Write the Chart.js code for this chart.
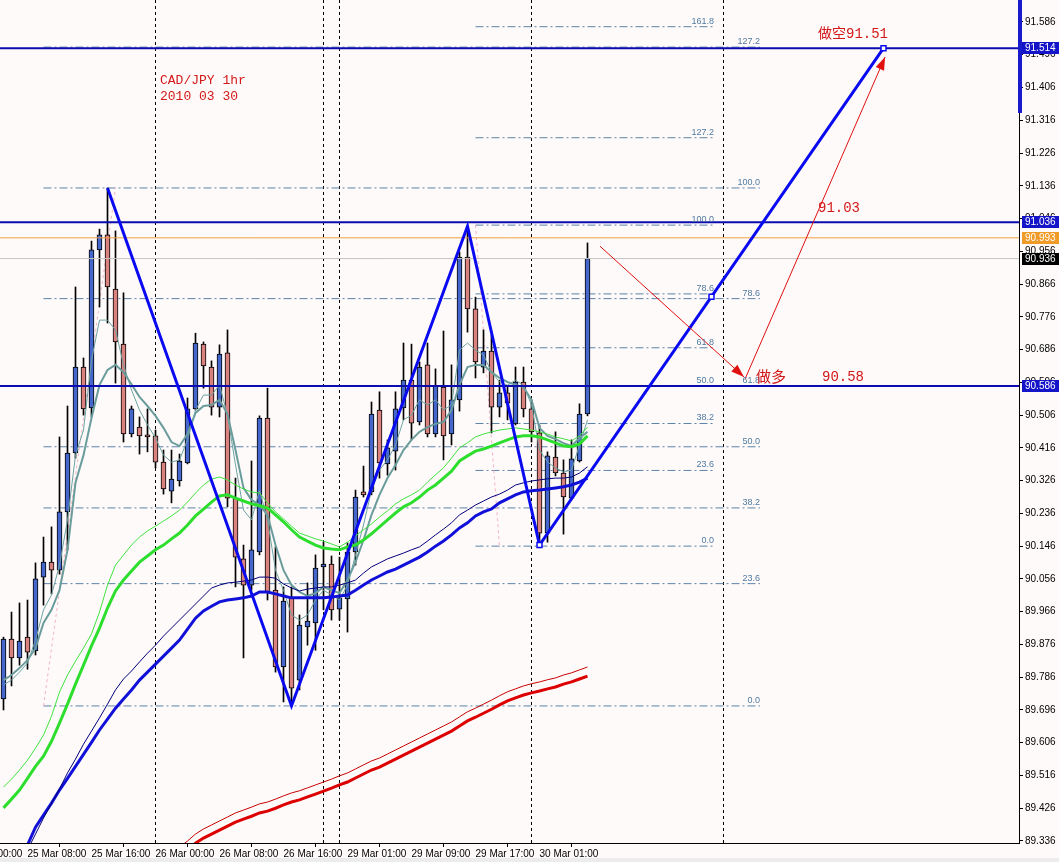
<!DOCTYPE html>
<html>
<head>
<meta charset="utf-8">
<title>CAD/JPY 1hr</title>
<script src="https://cdn.jsdelivr.net/npm/chart.js@4.4.1/dist/chart.umd.min.js"></script>
<style>
html,body{margin:0;padding:0;background:#fffafa;overflow:hidden;}
#box{position:relative;width:1059px;height:862px;}
canvas{display:block;}
</style>
</head>
<body>
<div id="box"><canvas id="chart" width="1059" height="862"></canvas></div>
<script>
// ---------------- data ----------------
const firstBar = -3; // bar index of the first candle (hourly bars, index 0 = 25 Mar 08:00)
const opens = [89.726,89.891,89.839,89.896,89.858,90.061,90.102,90.080,90.240,90.402,
  90.638,90.526,90.960,91.001,90.852,90.701,90.454,90.473,90.452,90.449,
  90.377,90.297,90.325,90.375,90.523,90.701,90.638,90.528,90.677,90.278,
  90.111,90.039,90.130,90.498,90.025,89.814,90.006,89.778,89.924,89.935,
  90.089,90.097,89.973,90.001,90.130,90.295,90.295,90.520,90.372,90.407,
  90.526,90.602,90.487,90.644,90.454,90.583,90.454,90.548,90.940,90.798,
  90.638,90.682,90.528,90.567,90.482,90.597,90.523,90.457,90.182,90.391,
  90.347,90.278,90.380,90.509];
const highs = [89.896,89.965,89.990,89.998,90.100,90.171,90.199,90.446,90.531,90.858,
  90.663,90.984,91.017,91.130,91.012,90.842,90.531,90.501,90.523,90.465,
  90.410,90.410,90.399,90.553,90.731,90.707,90.655,90.699,90.740,90.333,
  90.149,90.380,90.504,90.580,90.144,90.034,90.034,89.957,90.045,90.122,
  90.157,90.119,90.116,90.155,90.300,90.366,90.542,90.570,90.438,90.570,
  90.704,90.701,90.652,90.704,90.633,90.737,90.644,90.954,91.025,90.830,
  90.740,90.726,90.602,90.583,90.638,90.638,90.548,90.479,90.405,90.460,
  90.383,90.438,90.537,90.979];
const lows = [89.696,89.762,89.819,89.808,89.847,89.984,90.015,90.069,90.136,90.388,
  90.506,90.501,90.803,90.759,90.594,90.432,90.446,90.399,90.405,90.361,
  90.289,90.265,90.311,90.372,90.520,90.580,90.506,90.501,90.254,90.034,
  89.839,90.025,90.122,89.998,89.800,89.718,89.707,89.751,89.874,89.860,
  89.971,89.943,89.943,89.910,90.094,90.281,90.287,90.333,90.341,90.355,
  90.493,90.438,90.479,90.446,90.446,90.383,90.424,90.517,90.734,90.608,
  90.622,90.457,90.501,90.493,90.479,90.501,90.432,90.149,90.157,90.339,
  90.179,90.273,90.377,90.504];
const closes = [89.891,89.839,89.885,89.855,90.056,90.102,90.080,90.240,90.402,90.638,
  90.523,90.960,91.001,90.858,90.707,90.454,90.523,90.449,90.446,90.377,
  90.303,90.330,90.380,90.523,90.704,90.641,90.528,90.674,90.278,90.116,
  90.039,90.136,90.498,90.020,89.814,89.995,89.756,89.929,89.940,90.086,
  90.097,89.971,90.004,90.130,90.281,90.287,90.509,90.375,90.416,90.523,
  90.602,90.484,90.638,90.454,90.586,90.449,90.548,90.940,90.798,90.652,
  90.682,90.528,90.567,90.539,90.597,90.523,90.460,90.182,90.394,90.347,
  90.281,90.386,90.509,90.936];

// moving averages, one value per bar
const maFastTeal = [89.765,89.778,89.800,89.825,89.888,89.971,90.012,90.094,90.218,90.396,
  90.465,90.657,90.767,90.767,90.740,90.644,90.575,90.520,90.479,90.443,
  90.396,90.377,90.383,90.438,90.520,90.561,90.561,90.588,90.506,90.369,
  90.245,90.218,90.300,90.218,90.080,90.025,89.957,89.943,89.957,89.998,
  90.025,90.012,89.998,90.039,90.122,90.204,90.300,90.355,90.383,90.424,
  90.493,90.506,90.548,90.534,90.548,90.520,90.534,90.685,90.704,90.685,
  90.671,90.624,90.597,90.588,90.602,90.588,90.534,90.410,90.377,90.361,
  90.350,90.355,90.424,90.493];
const maSlowTeal = [89.778,89.792,89.811,89.833,89.866,89.935,89.971,90.025,90.136,90.320,
  90.396,90.498,90.589,90.630,90.644,90.624,90.591,90.556,90.531,90.504,
  90.471,90.432,90.421,90.454,90.512,90.531,90.534,90.548,90.509,90.410,
  90.306,90.273,90.259,90.232,90.149,90.080,90.039,90.020,90.009,90.017,
  90.034,90.025,90.017,90.053,90.102,90.163,90.232,90.287,90.333,90.369,
  90.410,90.438,90.460,90.473,90.482,90.487,90.520,90.589,90.638,90.644,
  90.644,90.624,90.608,90.597,90.589,90.583,90.548,90.471,90.449,90.440,
  90.429,90.421,90.443,90.460];
const maGreenThin = [89.484,89.506,89.531,89.558,89.591,89.627,89.679,89.745,89.792,89.830,
  89.866,89.905,89.965,90.039,90.094,90.122,90.149,90.171,90.188,90.201,
  90.215,90.229,90.245,90.267,90.292,90.314,90.330,90.336,90.328,90.314,
  90.303,90.295,90.292,90.265,90.240,90.221,90.201,90.182,90.174,90.166,
  90.160,90.152,90.144,90.157,90.174,90.191,90.207,90.226,90.243,90.262,
  90.276,90.287,90.300,90.322,90.342,90.361,90.388,90.416,90.430,90.446,
  90.454,90.460,90.465,90.468,90.471,90.468,90.465,90.460,90.454,90.446,
  90.441,90.435,90.449,90.473];
const maGreenThick = [89.427,89.451,89.476,89.508,89.541,89.569,89.610,89.660,89.712,89.767,
  89.819,89.872,89.921,89.976,90.023,90.053,90.078,90.102,90.119,90.136,
  90.149,90.166,90.182,90.204,90.229,90.248,90.267,90.284,90.287,90.278,
  90.270,90.262,90.257,90.251,90.232,90.213,90.191,90.171,90.160,90.149,
  90.141,90.138,90.136,90.144,90.149,90.163,90.180,90.199,90.218,90.237,
  90.254,90.265,90.281,90.300,90.314,90.333,90.352,90.380,90.394,90.407,
  90.413,90.421,90.430,90.438,90.446,90.449,90.449,90.446,90.438,90.430,
  90.421,90.419,90.427,90.449];
const maNavyThin = [89.188,89.229,89.270,89.311,89.355,89.399,89.440,89.479,89.523,89.561,
  89.602,89.638,89.674,89.712,89.751,89.781,89.803,89.828,89.852,89.874,
  89.899,89.921,89.943,89.965,89.987,90.009,90.031,90.039,90.045,90.047,
  90.050,90.053,90.061,90.061,90.058,90.042,90.031,90.023,90.028,90.031,
  90.034,90.034,90.039,90.045,90.053,90.072,90.089,90.100,90.111,90.119,
  90.127,90.136,90.144,90.160,90.177,90.193,90.210,90.232,90.245,90.259,
  90.270,90.281,90.289,90.300,90.314,90.320,90.325,90.328,90.331,90.333,
  90.333,90.336,90.347,90.364];
const maBlueThick = [89.229,89.262,89.294,89.325,89.374,89.407,89.440,89.476,89.508,89.541,
  89.574,89.607,89.641,89.671,89.701,89.726,89.751,89.778,89.800,89.822,
  89.844,89.866,89.888,89.918,89.948,89.968,89.981,89.993,89.998,90.001,
  90.004,90.009,90.020,90.020,90.015,90.009,90.004,90.004,90.004,90.004,
  90.004,90.006,90.009,90.012,90.025,90.039,90.053,90.064,90.075,90.083,
  90.094,90.105,90.116,90.130,90.146,90.160,90.177,90.196,90.210,90.229,
  90.240,90.248,90.265,90.276,90.287,90.295,90.298,90.300,90.303,90.306,
  90.309,90.314,90.322,90.333];
const redStart = 18; // first bar index of the red averages
const maRedThin = [89.303,89.319,89.336,89.355,89.369,89.380,89.391,89.402,89.413,89.421,
  89.429,89.438,89.443,89.451,89.460,89.468,89.474,89.482,89.490,89.498,
  89.506,89.515,89.523,89.534,89.545,89.556,89.564,89.575,89.586,89.597,
  89.608,89.619,89.630,89.641,89.652,89.663,89.677,89.691,89.701,89.712,
  89.723,89.735,89.746,89.754,89.762,89.768,89.773,89.779,89.784,89.792,
  89.798,89.806,89.814];
const maRedThick = [89.278,89.294,89.311,89.330,89.344,89.355,89.366,89.377,89.388,89.396,
  89.404,89.413,89.418,89.426,89.435,89.443,89.449,89.457,89.465,89.473,
  89.481,89.490,89.498,89.509,89.520,89.531,89.539,89.550,89.561,89.572,
  89.583,89.594,89.605,89.616,89.627,89.638,89.652,89.666,89.676,89.687,
  89.698,89.710,89.721,89.729,89.737,89.743,89.748,89.754,89.759,89.767,
  89.773,89.781,89.789];

// axes
const timeTickIdx = [-8,0,8,16,24,32,40,48,56,64];
const timeTickLabels = ['25 Mar 00:00','25 Mar 08:00','25 Mar 16:00','26 Mar 00:00','26 Mar 08:00',
  '26 Mar 16:00','29 Mar 01:00','29 Mar 09:00','29 Mar 17:00','30 Mar 01:00'];
const priceTicks = [91.586,91.496,91.406,91.316,91.226,91.136,91.046,90.956,90.866,90.776,
  90.686,90.596,90.506,90.416,90.326,90.236,90.146,90.056,89.966,89.876,
  89.786,89.696,89.606,89.516,89.426,89.336];
const xRange = [-3.4375, 123.9375];
const yRange = [89.3305, 91.6464];
const daySeparators = [16,37,39,63,87];

// drawn objects
const levelLines = [91.514, 91.036, 90.586];
const askPrice = 90.993;
const bidPrice = 90.936;
const axisFlagPrices = [91.514, 91.036, 90.993, 90.936, 90.586];
const axisRangeBar = [91.336, 91.6464];
const zigzagIdx = [10,33,55,64,107];
const zigzagPrice = [91.130,89.707,91.025,90.149,91.514];
const markerIdx = [64,85.5,107];
const markerPrice = [90.149,90.831,91.514];

const fib1Anchor = [[2,89.707],[11,91.130]];
const fib1Span = [2,91.56];
const fib1Levels = [89.707,90.043,90.251,90.419,90.586,90.826,91.130,91.517];
const fib1Labels = ['0.0','23.6','38.2','50.0','61.8','78.6','100.0','127.2'];
const fib2Anchor = [[56,91.028],[59,90.146]];
const fib2Span = [56,85.8];
const fib2Levels = [90.146,90.354,90.483,90.587,90.691,90.839,91.028,91.268,91.573];
const fib2Labels = ['0.0','23.6','38.2','50.0','61.8','78.6','100.0','127.2','161.8'];

const arrowFrom = [[71.56,90.970],[89.69,90.605]];
const arrowTo = [[89.56,90.611],[107.2,91.490]];

const noteTexts = ['CAD/JPY 1hr','2010 03 30','做空91.51','91.03','做多','90.58'];
const noteIdx = [16.56,16.56,98.81,98.81,91.06,99.31];
const notePrices = [91.424,91.380,91.553,91.075,90.613,90.611];

// ---------------- chart ----------------
const xs = opens.map((_, i) => firstBar + i);
const datasets = [];

daySeparators.forEach(d => datasets.push({
  type:'line', data:[{x:d,y:yRange[0]},{x:d,y:yRange[1]}],
  borderColor:'#000', borderWidth:1, borderDash:[3,3], pointRadius:0, order:100
}));

const fibStyle = {type:'line', borderColor:'#5b82a8', borderWidth:1, borderDash:[8,3,2,3], pointRadius:0, order:90};
fib1Levels.forEach(L => datasets.push(Object.assign({}, fibStyle, {data:[{x:fib1Span[0],y:L},{x:fib1Span[1],y:L}]})));
fib2Levels.forEach(L => datasets.push(Object.assign({}, fibStyle, {data:[{x:fib2Span[0],y:L},{x:fib2Span[1],y:L}]})));
[fib1Anchor, fib2Anchor].forEach(a => datasets.push({
  type:'line', data:a.map(p => ({x:p[0], y:p[1]})),
  borderColor:'#f2b4c2', borderWidth:1, borderDash:[3,3], pointRadius:0, order:85
}));

datasets.push({
  type:'bar', data: xs.map((x,i) => ({x, y:[lows[i], highs[i]]})),
  backgroundColor:'#000', barThickness:1, grouped:false, order:70
});
datasets.push({
  type:'bar', data: xs.map((x,i) => ({x, y:[opens[i], closes[i]]})),
  backgroundColor: closes.map((c,i) => c >= opens[i] ? '#4567cb' : '#d9827f'),
  borderColor:'#000', borderWidth:1, borderSkipped:false, barThickness:5,
  minBarLength:1, grouped:false, order:60
});

const maLine = (arr, color, w, start) => ({
  type:'line', data: arr.map((v,i) => ({x:(start === undefined ? firstBar : start) + i, y:v})),
  borderColor:color, borderWidth:w, pointRadius:0, order:50
});
datasets.push(maLine(maRedThin, '#c80000', 1, redStart));
datasets.push(maLine(maRedThick, '#dc0000', 3, redStart));
datasets.push(maLine(maNavyThin, '#00007a', 1));
datasets.push(maLine(maBlueThick, '#1010d8', 3));
datasets.push(maLine(maGreenThin, '#3fe33f', 1));
datasets.push(maLine(maGreenThick, '#2ede2e', 3));
datasets.push(maLine(maFastTeal, '#6da3a3', 1));
datasets.push(maLine(maSlowTeal, '#6a9c9c', 2));

const hLine = (v, color, w) => ({
  type:'line', data:[{x:xRange[0],y:v},{x:xRange[1],y:v}],
  borderColor:color, borderWidth:w, pointRadius:0, order:40
});
datasets.push(hLine(bidPrice, '#c4c4c4', 1));
datasets.push(hLine(askPrice, '#f0a040', 1));
levelLines.forEach(v => datasets.push(hLine(v, '#0b0bb0', 2)));

datasets.push({
  type:'line', data: zigzagIdx.map((x,i) => ({x, y:zigzagPrice[i]})),
  borderColor:'#0a0af0', borderWidth:3, pointRadius:0, order:30
});
datasets.push({
  type:'line', data: markerIdx.map((x,i) => ({x, y:markerPrice[i]})), showLine:false,
  pointStyle:'rect', pointRadius:3.5, pointBorderColor:'#0a0af0', pointBackgroundColor:'#ffffff',
  pointBorderWidth:1.5, order:29
});
arrowFrom.forEach((f,i) => datasets.push({
  type:'line', data:[{x:f[0],y:f[1]},{x:arrowTo[i][0],y:arrowTo[i][1]}],
  borderColor:'#e01010', borderWidth:1, pointRadius:0, order:20
}));

const overlay = {
  id:'overlay',
  beforeDraw(chart){
    const {ctx, width, height} = chart;
    ctx.save();
    ctx.fillStyle = '#fffafa';
    ctx.fillRect(0,0,width,height);
    ctx.fillStyle = '#ececec';
    ctx.fillRect(0,height-4,width,4);
    ctx.restore();
  },
  afterDatasetsDraw(chart){
    const {ctx} = chart;
    const X = v => chart.scales.x.getPixelForValue(v);
    const Y = v => chart.scales.y.getPixelForValue(v);
    ctx.save();
    // fib labels
    ctx.font = '9px "Liberation Sans", Arial, sans-serif';
    ctx.fillStyle = '#4f7aa0';
    ctx.textAlign = 'right';
    ctx.textBaseline = 'bottom';
    fib1Levels.forEach((L,i) => ctx.fillText(fib1Labels[i], X(fib1Span[1]), Y(L) - 1));
    fib2Levels.forEach((L,i) => ctx.fillText(fib2Labels[i], X(fib2Span[1]), Y(L) - 1));
    // arrow heads
    ctx.fillStyle = '#e01010';
    arrowFrom.forEach((f,i) => {
      const x0 = X(f[0]), y0 = Y(f[1]), x1 = X(arrowTo[i][0]), y1 = Y(arrowTo[i][1]);
      const a = Math.atan2(y1-y0, x1-x0), len = 13, hw = 4.5;
      ctx.beginPath();
      ctx.moveTo(x1, y1);
      ctx.lineTo(x1 - len*Math.cos(a) + hw*Math.sin(a), y1 - len*Math.sin(a) - hw*Math.cos(a));
      ctx.lineTo(x1 - len*Math.cos(a) - hw*Math.sin(a), y1 - len*Math.sin(a) + hw*Math.cos(a));
      ctx.closePath();
      ctx.fill();
    });
    // text notes
    const noteFonts = ['13px "Liberation Mono", monospace','13px "Liberation Mono", monospace',
      '14px "Liberation Mono", "Noto Sans CJK SC", monospace','14px "Liberation Mono", monospace',
      '15px "Noto Sans CJK SC", sans-serif','14px "Liberation Mono", monospace'];
    ctx.fillStyle = '#d21818';
    ctx.textAlign = 'left';
    ctx.textBaseline = 'middle';
    noteTexts.forEach((t,i) => { ctx.font = noteFonts[i]; ctx.fillText(t, X(noteIdx[i]), Y(notePrices[i])); });
    ctx.restore();
  },
  afterDraw(chart){
    const {ctx} = chart;
    const Y = v => chart.scales.y.getPixelForValue(v);
    const ax = chart.chartArea.right;
    ctx.save();
    ctx.fillStyle = '#1a1acd';
    ctx.fillRect(ax - 1, Y(axisRangeBar[1]), 4, Y(axisRangeBar[0]) - Y(axisRangeBar[1]));
    const flagColors = ['#1414c8','#1414c8','#f09a28','#000000','#1414c8'];
    ctx.font = '10px "Liberation Sans", Arial, sans-serif';
    ctx.textAlign = 'left';
    ctx.textBaseline = 'middle';
    axisFlagPrices.forEach((p,i) => {
      const y = Math.round(Y(p));
      ctx.fillStyle = flagColors[i];
      ctx.fillRect(ax + 3, y - 6, 37, 12);
      ctx.fillStyle = '#ffffff';
      ctx.fillText(p.toFixed(3), ax + 6, y + 0.5);
    });
    ctx.restore();
  }
};

new Chart(document.getElementById('chart'), {
  type:'line',
  data:{datasets},
  options:{
    responsive:false, animation:false, devicePixelRatio:1, events:[],
    layout:{padding:0, autoPadding:false},
    plugins:{legend:{display:false}, tooltip:{enabled:false}},
    scales:{
      x:{
        type:'linear', position:'bottom', min:xRange[0], max:xRange[1], offset:false,
        grid:{drawOnChartArea:false, drawTicks:true, tickLength:4, color:'#000'},
        border:{display:true, color:'#000', width:1},
        ticks:{color:'#000', font:{family:'"Liberation Sans", Arial, sans-serif', size:10},
          align:'start', maxRotation:0, autoSkip:false, padding:1,
          callback:(v,i) => timeTickLabels[i]},
        afterBuildTicks: s => { s.ticks = timeTickIdx.map(v => ({value:v})); },
        afterFit: s => { s.height = 19; s.paddingLeft = 0; s.paddingRight = 0; }
      },
      y:{
        type:'linear', position:'right', min:yRange[0], max:yRange[1],
        grid:{drawOnChartArea:false, drawTicks:true, tickLength:4, color:'#000'},
        border:{display:true, color:'#000', width:1},
        ticks:{color:'#000', font:{family:'"Liberation Sans", Arial, sans-serif', size:10},
          padding:2, autoSkip:false, callback:v => Number(v).toFixed(3)},
        afterBuildTicks: s => { s.ticks = priceTicks.map(v => ({value:v})); },
        afterFit: s => { s.width = 40; s.paddingTop = 0; s.paddingBottom = 0; }
      }
    }
  },
  plugins:[overlay]
});
</script>
</body>
</html>
